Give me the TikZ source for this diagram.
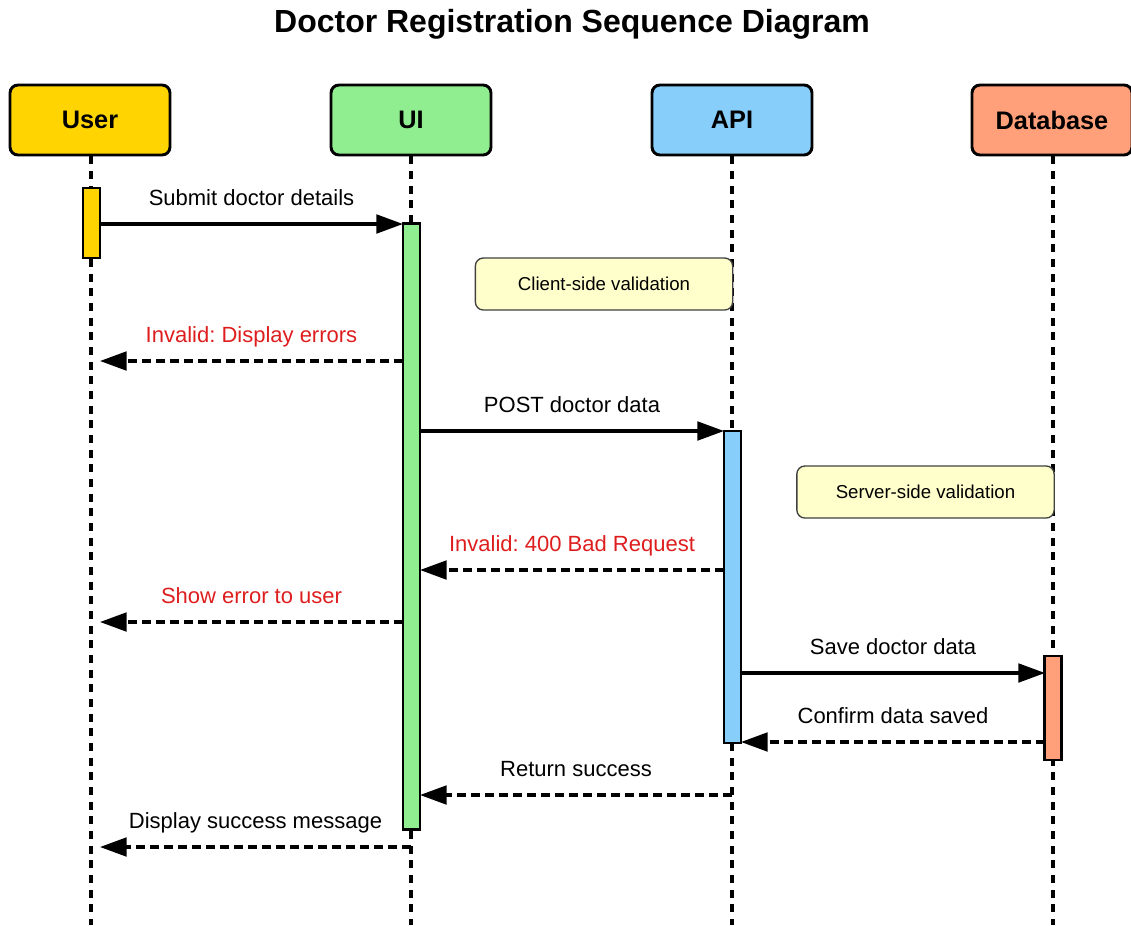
\documentclass[tikz,border=0pt]{standalone}
\usepackage{fontspec}
\setmainfont{Liberation Sans}
\usetikzlibrary{arrows.meta}
\definecolor{userfill}{RGB}{255,212,0}
\definecolor{uifill}{RGB}{144,238,144}
\definecolor{apifill}{RGB}{135,206,250}
\definecolor{dbfill}{RGB}{255,160,122}
\definecolor{notefill}{RGB}{255,255,204}
\definecolor{errred}{RGB}{222,30,30}
\frenchspacing

\begin{document}
\begin{tikzpicture}[x=0.75pt, y=-0.75pt,
  heading/.style={font=\fontsize{24}{28}\selectfont\bfseries},
  actor/.style={draw, line width=2.2pt, rounded corners=6pt, minimum width=120pt,
    minimum height=52.5pt, font=\fontsize{19}{22}\selectfont\bfseries},
  bar/.style={draw, line width=2.2pt, minimum width=12.75pt, inner sep=0pt},
  note/.style={draw=black!75, fill=notefill, line width=1pt, rounded corners=6pt,
    minimum width=193pt, minimum height=39pt, font=\fontsize{14}{16}\selectfont},
  life/.style={line width=2.3pt, dash pattern=on 6pt off 5pt},
  call/.style={line width=2.3pt, -{Triangle[length=20pt,width=14pt]}},
  reply/.style={call, dash pattern=on 6.5pt off 4pt},
  lbl/.style={anchor=base, yshift=14pt, font=\fontsize{16.5}{19}\selectfont},
  err/.style={lbl, text=errred}]
  \useasboundingbox (0,0) rectangle (1131,925);

  \node [heading] (TT) at (572,24) {Doctor Registration Sequence Diagram};

  \node [actor, fill=userfill] (U)  at (90,120)   {User};
  \node [actor, fill=uifill]   (UI) at (411,120)  {UI};
  \node [actor, fill=apifill]  (AP) at (732,120)  {API};
  \node [actor, fill=dbfill]   (DB) at (1052,120) {Database};

  \coordinate (UE) at (91,925);
  \coordinate (IE) at (411,925);
  \coordinate (AE) at (732,925);
  \coordinate (DE) at (1053,925);
  \draw [life] (U.south -| UE) -- (UE);
  \draw [life] (UI.south -| IE) -- (IE);
  \draw [life] (AP.south -| AE) -- (AE);
  \draw [life] (DB.south -| DE) -- (DE);

  \node [bar, fill=userfill, minimum height=52.5pt]  (UA) at (91.5,223)  {};
  \node [bar, fill=uifill,   minimum height=455pt]   (IA) at (411.5,526.5) {};
  \node [bar, fill=apifill,  minimum height=234pt]   (AA) at (732.5,587) {};
  \node [bar, fill=dbfill,   minimum height=78pt]    (DA) at (1053,708)  {};

  \node [note] (N1) at (604,284)   {Client-side validation};
  \node [note] (N2) at (925.5,492) {Server-side validation};

  \coordinate (s1) at (100,224);  \coordinate (t1) at (403,224);
  \coordinate (s2) at (403,361);  \coordinate (t2) at (100,361);
  \coordinate (s3) at (420,431);  \coordinate (t3) at (724,431);
  \coordinate (s4) at (724,570);  \coordinate (t4) at (420,570);
  \coordinate (s5) at (403,622);  \coordinate (t5) at (100,622);
  \coordinate (s6) at (741,673);  \coordinate (t6) at (1045,673);
  \coordinate (s7) at (1045,742); \coordinate (t7) at (741,742);
  \coordinate (s8) at (732,795);  \coordinate (t8) at (420,795);
  \coordinate (s9) at (411,847);  \coordinate (t9) at (100,847);

  \draw [call]  (s1) -- node [lbl] {Submit doctor details} (t1);
  \draw [reply] (s2) -- node [err] {Invalid: Display errors} (t2);
  \draw [call]  (s3) -- node [lbl] {POST doctor data} (t3);
  \draw [reply] (s4) -- node [err] {Invalid: 400 Bad Request} (t4);
  \draw [reply] (s5) -- node [err] {Show error to user} (t5);
  \draw [call]  (s6) -- node [lbl] {Save doctor data} (t6);
  \draw [reply] (s7) -- node [lbl] {Confirm data saved} (t7);
  \draw [reply] (s8) -- node [lbl] {Return success} (t8);
  \draw [reply] (s9) -- node [lbl] {Display success message} (t9);
\end{tikzpicture}
\end{document}
